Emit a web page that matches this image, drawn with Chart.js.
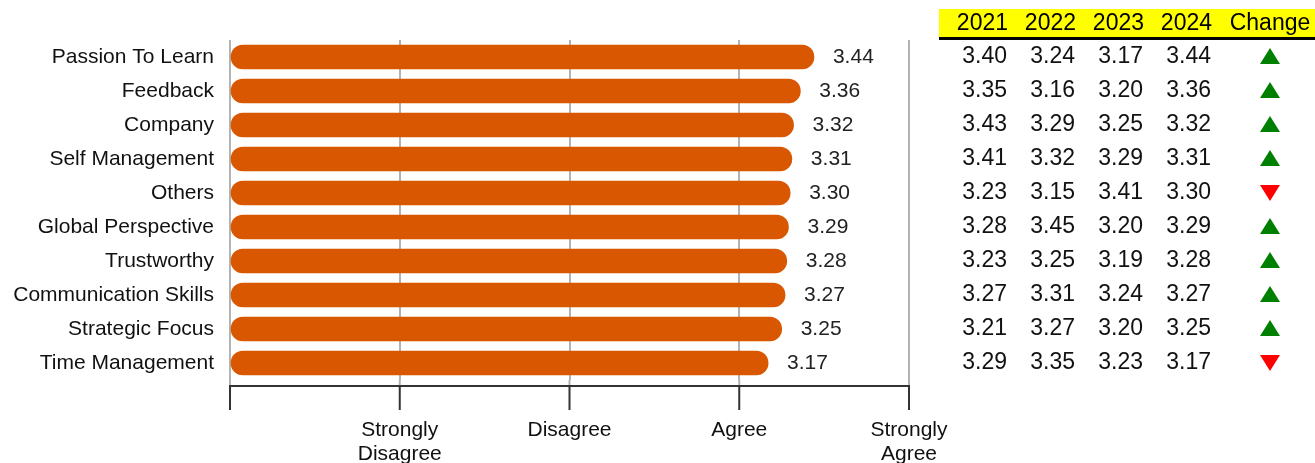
<!DOCTYPE html>
<html>
<head>
<meta charset="utf-8">
<script src="https://cdn.jsdelivr.net/npm/chart.js@4.4.0/dist/chart.umd.min.js"></script>
<style>
  html, body { margin: 0; padding: 0; background: #fff; }
  #wrap { width: 1315px; height: 463px; position: relative; }
</style>
</head>
<body>
<div id="wrap"><canvas id="myChart"></canvas></div>
<script>
const categories = ["Passion To Learn", "Feedback", "Company", "Self Management", "Others",
  "Global Perspective", "Trustworthy", "Communication Skills", "Strategic Focus", "Time Management"];
const years = ["2021", "2022", "2023", "2024"];
const scores2021 = [3.40, 3.35, 3.43, 3.41, 3.23, 3.28, 3.23, 3.27, 3.21, 3.29];
const scores2022 = [3.24, 3.16, 3.29, 3.32, 3.15, 3.45, 3.25, 3.31, 3.27, 3.35];
const scores2023 = [3.17, 3.20, 3.25, 3.29, 3.41, 3.20, 3.19, 3.24, 3.20, 3.23];
const scores2024 = [3.44, 3.36, 3.32, 3.31, 3.30, 3.29, 3.28, 3.27, 3.25, 3.17];
const tickLabels = ["", ["Strongly", "Disagree"], "Disagree", "Agree", ["Strongly", "Agree"]];

const FONT = "'Liberation Sans', Arial, sans-serif";
const orange = "rgb(217, 87, 0)";

// value labels next to each bar
const valueLabels = {
  id: 'valueLabels',
  afterDatasetsDraw(chart) {
    const ctx = chart.ctx;
    const meta = chart.getDatasetMeta(0);
    ctx.save();
    ctx.font = "21px " + FONT;
    ctx.fillStyle = "#222";
    ctx.textAlign = "left";
    ctx.textBaseline = "middle";
    meta.data.forEach((bar, i) => {
      ctx.fillText(scores2024[i].toFixed(2), bar.x + 19, bar.y);
    });
    ctx.restore();
  }
};

// x axis line sits a little below the plot, with long dark ticks
const xAxisLine = {
  id: 'xAxisLine',
  afterDraw(chart) {
    const ctx = chart.ctx;
    const x = chart.scales.x;
    const area = chart.chartArea;
    const axisY = area.bottom + 6;
    ctx.save();
    ctx.lineWidth = 2;
    x.ticks.forEach(t => {
      const px = x.getPixelForValue(t.value);
      ctx.strokeStyle = "#b3b3b3";
      ctx.beginPath(); ctx.moveTo(px, area.bottom); ctx.lineTo(px, axisY); ctx.stroke();
      ctx.strokeStyle = "#333";
      ctx.beginPath(); ctx.moveTo(px, axisY); ctx.lineTo(px, axisY + 24); ctx.stroke();
    });
    ctx.strokeStyle = "#333";
    ctx.beginPath();
    ctx.moveTo(x.getPixelForValue(0) - 1, axisY);
    ctx.lineTo(x.getPixelForValue(4) + 1, axisY);
    ctx.stroke();
    ctx.restore();
  }
};

// table of yearly scores on the right
const scoreTable = {
  id: 'scoreTable',
  afterDraw(chart) {
    const ctx = chart.ctx;
    const y = chart.scales.y;
    const cols = [1007, 1075, 1143, 1211];
    const changeX = 1270;
    const series = [scores2021, scores2022, scores2023, scores2024];
    ctx.save();
    // header
    ctx.fillStyle = "#ffff00";
    ctx.fillRect(939, 9, 376, 29);
    ctx.fillStyle = "#000";
    ctx.fillRect(939, 37, 376, 3);
    ctx.font = "23px " + FONT;
    ctx.textBaseline = "middle";
    ctx.textAlign = "right";
    years.forEach((yr, j) => ctx.fillText(yr, cols[j] + 1, 24));
    ctx.textAlign = "center";
    ctx.fillText("Change", changeX, 24);
    // rows
    ctx.fillStyle = "#111";
    ctx.textAlign = "right";
    categories.forEach((c, i) => {
      const py = y.getPixelForValue(i);
      series.forEach((s, j) => ctx.fillText(s[i].toFixed(2), cols[j], py));
      const up = scores2024[i] >= scores2023[i];
      ctx.fillStyle = up ? "#008000" : "#ff0000";
      ctx.beginPath();
      if (up) {
        ctx.moveTo(changeX, py - 9); ctx.lineTo(changeX + 10, py + 7); ctx.lineTo(changeX - 10, py + 7);
      } else {
        ctx.moveTo(changeX - 10, py - 8); ctx.lineTo(changeX + 10, py - 8); ctx.lineTo(changeX, py + 8);
      }
      ctx.closePath();
      ctx.fill();
      ctx.fillStyle = "#111";
    });
    ctx.restore();
  }
};

const ctx = document.getElementById('myChart').getContext('2d');
const myChart = new Chart(ctx, {
  type: 'bar',
  data: {
    labels: categories,
    datasets: [{
      data: scores2024,
      backgroundColor: orange,
      borderWidth: 0,
      borderRadius: 12,
      borderSkipped: false,
      barThickness: 24
    }]
  },
  options: {
    indexAxis: 'y',
    responsive: true,
    maintainAspectRatio: false,
    animation: false,
    layout: { padding: { top: 40, right: 406, bottom: 0, left: 0 } },
    plugins: { legend: { display: false }, tooltip: { enabled: false } },
    scales: {
      x: {
        min: 0, max: 4,
        afterFit(scale) { scale.height = 83; },
        ticks: {
          stepSize: 1,
          autoSkip: false,
          maxRotation: 0,
          padding: 38,
          color: "#111",
          font: { family: FONT, size: 21, lineHeight: 1.15 },
          callback: (v) => tickLabels[v]
        },
        grid: { color: "#b3b3b3", lineWidth: 2, drawTicks: false },
        border: { display: false }
      },
      y: {
        afterFit(scale) { scale.width = 230; },
        ticks: {
          padding: 16,
          color: "#111",
          font: { family: FONT, size: 21 }
        },
        grid: { display: false, drawTicks: false },
        border: { display: false }
      }
    }
  },
  plugins: [valueLabels, xAxisLine, scoreTable]
});
</script>
</body>
</html>
